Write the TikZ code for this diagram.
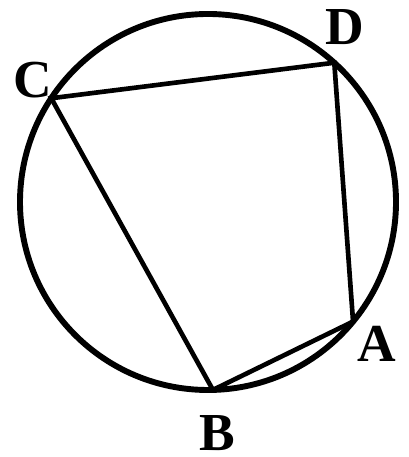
\documentclass[tikz,border=0pt]{standalone}
\usepackage{fontspec}
\setmainfont{Liberation Serif}
\usetikzlibrary{calc, positioning}

\begin{document}
\begin{tikzpicture}[x=0.025cm, y=0.025cm,
    ptlabel/.style={font=\fontsize{38}{40}\selectfont\bfseries, inner sep=0pt}]
  \useasboundingbox (0,0) rectangle (408,457);
  % Circle
  \coordinate (O) at (208,255);
  \draw[line width=4.2pt] (O) circle (188);
  % Points on the circle
  \coordinate (A) at ($(O)+(-39.5:188)$);
  \coordinate (B) at ($(O)+(-88.5:188)$);
  \coordinate (C) at ($(O)+(146.5:188)$);
  \coordinate (D) at ($(O)+(47.8:188)$);
  % Quadrilateral
  \draw[line width=3.3pt, line join=miter] (A) -- (B) -- (C) -- (D) -- cycle;
  % Labels
  \node[ptlabel] (lA) at (377,113) {A};
  \node[ptlabel] (lB) at (217,24) {B};
  \node[ptlabel] (lC) at (33,377) {C};
  \node[ptlabel] (lD) at (345,430) {D};
\end{tikzpicture}
\end{document}
